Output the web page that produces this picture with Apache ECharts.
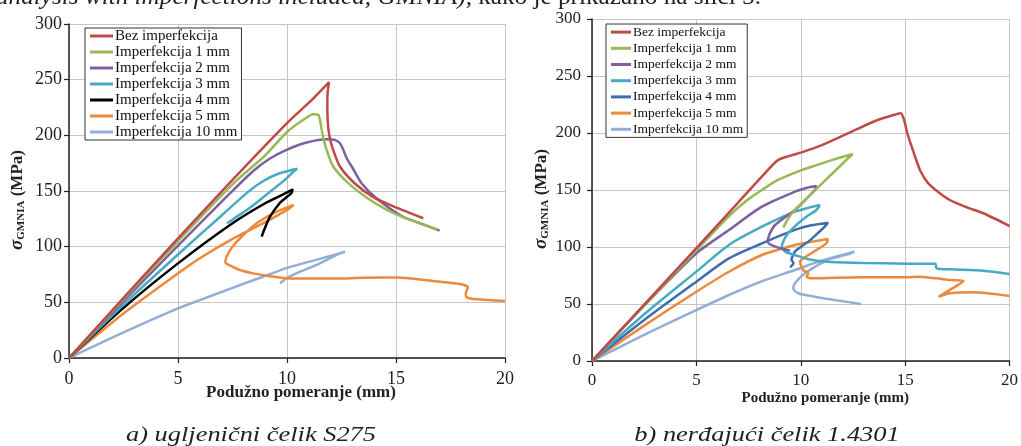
<!DOCTYPE html>
<html>
<head>
<meta charset="utf-8">
<script src="https://cdn.jsdelivr.net/npm/echarts@6/dist/echarts.min.js"></script>
<style>
  html, body { margin: 0; padding: 0; background: #fff; }
  #chart { width: 1021px; height: 446px; }
</style>
</head>
<body>
<div id="chart"></div>
<script>
// Legend / series names (same for both panels)
const seriesNames = [
  'Bez imperfekcija', 'Imperfekcija 1 mm', 'Imperfekcija 2 mm', 'Imperfekcija 3 mm',
  'Imperfekcija 4 mm', 'Imperfekcija 5 mm', 'Imperfekcija 10 mm'
];

// Axis ticks
const xTicks = [0, 5, 10, 15, 20];
const yTicks = [0, 50, 100, 150, 200, 250, 300];

// Panel captions and axis titles
const captionA = 'a) ugljenični čelik S275';
const captionB = 'b) nerđajući čelik 1.4301';
const xTitle = 'Podužno pomeranje (mm)';

// ---- a) carbon steel S275: [displacement mm, stress MPa] ----
const s275Bez = [[0,0],[2.5,54],[5,107.5],[7.5,160],[10,211],[11.2,233],[11.93,247.7],[11.87,240],[11.85,229],[11.87,212],[11.95,199],[12.1,188],[12.43,172],[13.1,157],[13.96,144.5],[15.03,135],[16.25,125.5]];
const s275Imp1 = [[0,0],[2.5,53],[5,105],[7.5,156],[9,182],[10,203],[10.75,214],[11.2,219],[11.44,218.3],[11.52,213],[11.6,204],[11.7,195],[11.85,185],[12.12,172],[12.81,157],[13.66,144],[14.5,134],[15.26,127],[16.1,121],[16.9,115.5]];
const s275Imp2 = [[0,0],[2.5,51],[5,101],[7.39,148],[8.45,168],[9.2,179],[9.98,187],[10.9,193.5],[11.82,196.5],[12.2,195.9],[12.43,192.9],[12.58,187],[12.75,179],[12.97,172],[13.42,157],[14.1,143.5],[15.26,127.5],[16.1,121],[17.0,114.4]];
const s275Imp3 = [[0,0],[2.5,48],[5,93],[7,128],[8.2,149],[8.91,159],[9.6,165.5],[10.2,168.8],[10.47,170],[10.3,167.5],[9.9,160],[9.2,149],[8.3,135],[7.7,127],[7.25,121]];
const s275Imp4 = [[0,0],[2.5,45],[5,85],[7.5,121],[9,139],[9.98,148.5],[10.26,151.5],[10.2,148],[9.95,144],[9.68,139.5],[9.22,127],[8.95,115],[8.84,109]];
const s275Imp5 = [[0,0],[2.5,40],[5,76],[6,89.6],[7.5,107],[9,122],[10,133],[10.3,137.5],[9.37,130],[8.61,121],[8.0,110.5],[7.5,100],[7.23,91],[7.17,86],[7.45,82.5],[7.84,79],[8.45,76],[9.2,73.5],[10.2,71.3],[12.1,71.3],[13.5,72],[15.1,72.3],[16.3,70],[17.94,66.5],[18.3,63.5],[18.2,58],[18.25,54.5],[18.7,52.7],[20,51.2]];
const s275Imp10 = [[0,0],[2.5,23],[5,44.6],[6,52],[7.5,63],[8.9,73],[10,81],[11.5,89],[12.66,95.5],[12.43,94],[11.36,83.6],[10.6,77.5],[9.98,71.6],[9.68,67]];

// ---- b) stainless steel 1.4301 ----
const ssBez = [[0,0],[2.5,49.5],[5,99],[7,139],[8.3,165],[8.93,176.5],[10.04,183],[10.83,188],[12.41,201],[13.68,211.4],[14.5,216],[14.79,217.3],[14.95,211.4],[15.1,200],[15.26,191],[15.5,178],[15.75,166],[16.1,156],[16.6,148],[17.16,141],[18,134.5],[18.75,129.6],[20,118.4]];
const ssImp1 = [[0,0],[2.5,49],[5,97],[6.56,127],[7.35,140],[8.14,150],[8.93,159],[10.04,167.5],[10.8,172],[11.45,176],[12.2,180],[12.49,181.6],[12.18,176.3],[11.0,155.3],[9.72,132.5],[9.4,125],[9.17,117]];
const ssImp2 = [[0,0],[2.5,48.5],[5,94.4],[6.56,114.9],[8.14,135.4],[9.72,148.5],[10.3,152],[10.75,153.5],[10.67,150],[10.2,141],[9.72,132.5],[8.77,119.3],[8.5,111],[8.42,104.7],[8.69,100.9],[9.1,98.5],[9.49,96.8]];
const ssImp3 = [[0,0],[2.5,41],[5,78.4],[6.56,101.8],[8.14,117.8],[9.72,131],[10.5,135],[10.91,136.8],[10.75,132.5],[10.3,127],[9.88,120.8],[9.33,110.5],[9.09,100.3],[9.25,95.9],[9.72,93],[10.36,89.2],[11.3,87.1],[13,86],[15.1,85.4],[16.45,85.2],[16.5,81.3],[17.16,80.4],[18.75,79.2],[20,76.3]];
const ssImp4 = [[0,0],[2.5,36],[5,69.6],[6.56,90],[8.14,103.2],[9.72,115],[10.5,119],[11.3,121.3],[11.15,117.8],[10.75,111],[10.36,104.7],[9.72,95.9],[9.56,88.6],[9.65,86],[9.49,82.2]];
const ssImp5 = [[0,0],[2.5,31],[5,60.8],[6.56,78.3],[8.14,93],[9.72,101.8],[10.5,104.5],[11.3,107],[11.23,103.2],[10.51,94.5],[9.96,87.1],[10.12,79.8],[10.36,76.9],[10.28,74],[10.51,72.5],[12.89,73.4],[15.1,73.4],[15.58,74],[16.5,72.5],[17.16,71],[17.8,70.2],[17.2,63],[16.61,56.4],[17.16,59.4],[18.27,60.3],[20,57]];
const ssImp10 = [[0,0],[2.5,23],[5,44.7],[6.56,57.9],[8,69],[9.72,79.8],[11,88],[12.57,95.9],[12.41,94.5],[11.3,88.6],[10.2,76.9],[9.72,68.2],[9.64,63.8],[9.88,59.4],[10.67,56.4],[11.62,53.5],[12.89,50]];

const panelA = [s275Bez, s275Imp1, s275Imp2, s275Imp3, s275Imp4, s275Imp5, s275Imp10];
const panelB = [ssBez, ssImp1, ssImp2, ssImp3, ssImp4, ssImp5, ssImp10];

const colorsA = ['#BE4B48', '#98B954', '#7D60A0', '#46AAC5', '#000000', '#EC8A3C', '#93AED5'];
const colorsB = ['#BE4B48', '#98B954', '#7D60A0', '#46AAC5', '#3C6EAE', '#EC8A3C', '#93AED5'];

const SERIF = '"Liberation Serif", "Times New Roman", "DejaVu Serif", serif';

function makeSeries(data, colors, idx) {
  return data.map((pts, i) => ({
    name: seriesNames[i],
    type: 'line',
    xAxisIndex: idx,
    yAxisIndex: idx,
    data: pts,
    showSymbol: false,
    smooth: 0.25,
    lineStyle: { width: 2.5, color: colors[i] },
    itemStyle: { color: colors[i] },
    emphasis: { disabled: true },
    silent: true,
    z: 2 + (data.length - i) * 0.01
  }));
}

function makeXAxis(idx, fontSize, nameSize, nameGap, nameShift, labelMargin) {
  return {
    type: 'value', gridIndex: idx,
    min: xTicks[0], max: xTicks[xTicks.length - 1], interval: xTicks[1] - xTicks[0],
    name: xTitle, nameLocation: 'middle', nameGap: nameGap, nameMoveOverlap: false,
    nameTextStyle: { fontFamily: SERIF, fontWeight: 'bold', fontSize: nameSize, color: '#222', padding: [0, 0, 0, nameShift] },
    axisLine: { show: true, onZero: false, lineStyle: { color: '#222', width: 1.5 } },
    axisTick: { show: true, inside: false, length: 5, lineStyle: { color: '#222', width: 1.2 } },
    axisLabel: { fontFamily: SERIF, fontSize: fontSize, color: '#222', margin: labelMargin },
    splitLine: { show: true, lineStyle: { color: '#c6c6c6', width: 1 } }
  };
}

function makeYAxis(idx, fontSize, nameGap, labelMargin) {
  return {
    type: 'value', gridIndex: idx,
    min: yTicks[0], max: yTicks[yTicks.length - 1], interval: yTicks[1] - yTicks[0],
    name: '{s|σ}{sub|GMNIA}{u| (MPa)}',
    nameLocation: 'middle', nameRotate: 90, nameGap: nameGap,
    nameTextStyle: {
      fontFamily: SERIF, fontWeight: 'bold', fontSize: 17, color: '#222',
      padding: [0, 18, 0, 0],
      rich: {
        s: { fontFamily: SERIF, fontWeight: 'bold', fontStyle: 'italic', fontSize: 19, color: '#222' },
        sub: { fontFamily: SERIF, fontWeight: 'bold', fontSize: 11, color: '#222', padding: [8, 0, 0, 0] },
        u: { fontFamily: SERIF, fontWeight: 'bold', fontSize: 17, color: '#222' }
      }
    },
    axisLine: { show: true, onZero: false, lineStyle: { color: '#222', width: 1.5 } },
    axisTick: { show: true, inside: false, length: 5, lineStyle: { color: '#222', width: 1.2 } },
    axisLabel: { fontFamily: SERIF, fontSize: fontSize, color: '#222', margin: labelMargin },
    splitLine: { show: true, lineStyle: { color: '#c6c6c6', width: 1 } }
  };
}

function makeLegend(left, top, fontSize, lineH, iconW, colors) {
  return {
    orient: 'vertical', left: left, top: top,
    backgroundColor: '#fff', borderColor: '#333', borderWidth: 1,
    padding: [0, 4, 0, 5], itemGap: 0,
    icon: 'rect', itemWidth: iconW, itemHeight: 3,
    selectedMode: false,
    textStyle: { fontFamily: SERIF, fontSize: fontSize, color: '#111', lineHeight: lineH, padding: [0, 0, 0, -3] },
    data: seriesNames.map((n, i) => ({ name: n, itemStyle: { color: colors[i] } }))
  };
}

const chart = echarts.init(document.getElementById('chart'), null, { renderer: 'canvas' });

chart.setOption({
  backgroundColor: '#fff',
  animation: false,
  grid: [
    { left: 69, top: 24, width: 436, height: 334, containLabel: false },
    { left: 592, top: 19, width: 421, height: 342, containLabel: false }
  ],
  xAxis: [ makeXAxis(0, 18, 17, 26, 28, 12), makeXAxis(1, 17, 15, 30, 49, 11) ],
  yAxis: [ makeYAxis(0, 18, 42, 7), makeYAxis(1, 17, 41, 11) ],
  legend: [
    makeLegend(85, 28, 15, 16, 23, colorsA),
    makeLegend(606, 24, 13.5, 16.2, 20, colorsB)
  ],
  series: [].concat(makeSeries(panelA, colorsA, 0), makeSeries(panelB, colorsB, 1)),
  graphic: [
    {
      type: 'text', x: -4, y: -14, scaleX: 1.05, silent: true,
      style: {
        text: '{i|analysis with imperfections included, GMNIA),}{n| kako je prikazano na slici 5.}',
        rich: {
          i: { fontFamily: SERIF, fontStyle: 'italic', fontSize: 24, fill: '#222' },
          n: { fontFamily: SERIF, fontSize: 24, fill: '#222' }
        }
      }
    },
    {
      type: 'text', x: 251, y: 435, scaleX: 1.2, silent: true,
      style: { text: captionA, fontFamily: SERIF, fontStyle: 'italic', fontSize: 22, fill: '#222', align: 'center', verticalAlign: 'middle' }
    },
    {
      type: 'text', x: 767, y: 435, scaleX: 1.2, silent: true,
      style: { text: captionB, fontFamily: SERIF, fontStyle: 'italic', fontSize: 22, fill: '#222', align: 'center', verticalAlign: 'middle' }
    }
  ]
});
</script>
</body>
</html>
